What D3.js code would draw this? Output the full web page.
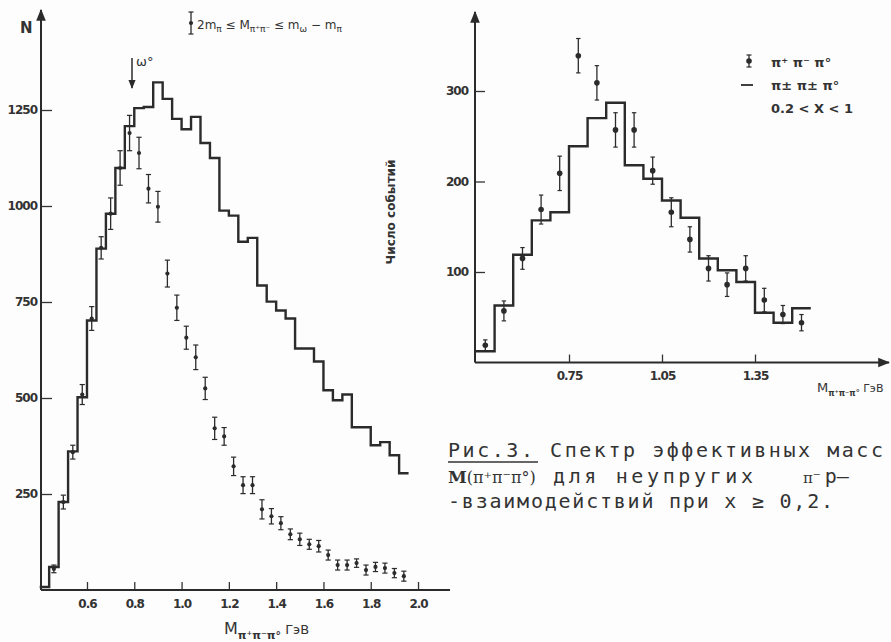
<!DOCTYPE html>
<html>
<head>
<meta charset="utf-8">
<script src="https://cdn.jsdelivr.net/npm/d3@7"></script>
<style>
  body { margin: 0; background: #fdfdfd; }
  svg { display: block; }
  .tick text { font-family: "DejaVu Sans", sans-serif; font-size: 12px; font-weight: bold; fill: #333; letter-spacing: -1px; }
  .tick line { stroke: #333; stroke-width: 1.3; }
</style>
</head>
<body>
<div id="chart"></div>
<script>
var width = 891;
var height = 642;

// left panel: histogram (0.04 GeV bins) and points
let leftEdges = [0.40, 0.44, 0.48, 0.52, 0.56, 0.60, 0.64, 0.68, 0.72, 0.76, 0.80, 0.84, 0.88, 0.92, 0.96, 1.00,
                 1.04, 1.08, 1.12, 1.16, 1.20, 1.24, 1.28, 1.32, 1.36, 1.40, 1.44, 1.48, 1.52, 1.56, 1.60, 1.64,
                 1.68, 1.72, 1.76, 1.80, 1.84, 1.88, 1.92, 1.96];
let leftHist = [8, 60, 229, 361, 502, 702, 889, 980, 1099, 1208, 1255, 1258, 1322, 1279, 1227, 1200, 1232, 1164,
                1125, 988, 975, 907, 917, 793, 751, 728, 707, 629, 629, 595, 520, 494, 509, 424, 424, 377, 385, 351, 304];
let leftMass = [0.46, 0.50, 0.54, 0.58, 0.62, 0.66, 0.70, 0.74, 0.78, 0.82, 0.86, 0.90, 0.94, 0.98, 1.02, 1.06,
                1.10, 1.14, 1.18, 1.22, 1.26, 1.30, 1.34, 1.38, 1.42, 1.46, 1.50, 1.54, 1.58, 1.62, 1.66, 1.70,
                1.74, 1.78, 1.82, 1.86, 1.90, 1.94];
let leftCounts = [55, 229, 359, 509, 707, 891, 980, 1099, 1190, 1138, 1045, 998, 824, 735, 657, 606, 525, 421, 400,
                  322, 273, 273, 210, 192, 174, 145, 132, 119, 114, 91, 65, 65, 70, 52, 60, 57, 44, 36];
let leftErrors = [10, 18, 18, 26, 31, 29, 41, 45, 46, 41, 37, 40, 35, 33, 30, 32, 29, 29, 23, 24, 22, 22, 25, 20,
                  17, 14, 16, 13, 15, 13, 13, 13, 11, 13, 12, 13, 12, 13];
let leftTicksX = [0.6, 0.8, 1.0, 1.2, 1.4, 1.6, 1.8, 2.0];
let leftTicksY = [250, 500, 750, 1000, 1250];

// right panel (inset): histogram (0.06 GeV bins) and points
let rightEdges = [0.45, 0.51, 0.57, 0.63, 0.69, 0.75, 0.81, 0.87, 0.93, 0.99, 1.05, 1.11, 1.17, 1.23, 1.29, 1.35, 1.41, 1.47, 1.53];
let rightHist = [12.5, 63, 119, 157, 166, 239, 270, 287, 218, 203, 179, 160, 115, 102, 89, 55, 44, 60];
let rightMass = [0.48, 0.54, 0.60, 0.66, 0.72, 0.78, 0.84, 0.90, 0.96, 1.02, 1.08, 1.14, 1.20, 1.26, 1.32, 1.38, 1.44, 1.50];
let rightCounts = [19, 57, 115, 169, 209, 339, 309, 257, 257, 212, 166, 136, 104, 86, 104, 69, 53, 44];
let rightErrors = [6, 11, 12, 16, 19, 19, 19, 19, 19, 15, 16, 14, 14, 13, 14, 13, 10, 9];
let rightTicksX = [0.75, 1.05, 1.35];
let rightTicksY = [100, 200, 300];

var ink = '#2b2b2b';

let svg = d3.select('#chart')
            .append('svg')
            .attr('width', width)
            .attr('height', height);

svg.append('defs').append('marker')
    .attr('id', 'arrow')
    .attr('viewBox', '0 0 10 10')
    .attr('refX', 9).attr('refY', 5)
    .attr('markerWidth', 6).attr('markerHeight', 6)
    .attr('orient', 'auto')
    .append('path')
    .attr('d', 'M0,1 L10,5 L0,9 z')
    .attr('fill', ink);

// scales
let xL = d3.scaleLinear().domain([0.40, 2.15]).range([39.7, 453.5]);
let yL = d3.scaleLinear().domain([0, 1250]).range([590, 110]);
let xR = d3.scaleLinear().domain([0.45, 1.75]).range([476, 879]);
let yR = d3.scaleLinear().domain([0, 300]).range([362.5, 91]);

// step histogram from edges + values
const drawHist = (g, edges, values, x, y, w) => {
    let pts = values.map((v, i) => [edges[i], v]);
    pts.push([edges[edges.length - 1], values[values.length - 1]]);
    let line = d3.line()
                 .x(d => x(d[0]))
                 .y(d => y(d[1]))
                 .curve(d3.curveStepAfter);
    g.append('path')
        .attr('d', line(pts))
        .attr('fill', 'none')
        .attr('stroke', ink)
        .attr('stroke-width', w)
        .attr('stroke-linejoin', 'miter');
};

const drawPoints = (g, xs, vs, es, x, y, cap, r) => {
    let item = g.selectAll('.pt')
                .data(xs.map((m, i) => ({ m: m, v: vs[i], e: es[i] })))
                .enter()
                .append('g')
                .classed('pt', true)
                .attr('transform', d => 'translate(' + x(d.m) + ',0)');
    item.append('line')
        .attr('x1', 0).attr('x2', 0)
        .attr('y1', d => y(d.v - d.e)).attr('y2', d => y(d.v + d.e))
        .attr('stroke', ink).attr('stroke-width', 1.3);
    item.append('line')
        .attr('x1', -cap).attr('x2', cap)
        .attr('y1', d => y(d.v + d.e)).attr('y2', d => y(d.v + d.e))
        .attr('stroke', ink).attr('stroke-width', 1.2);
    item.append('line')
        .attr('x1', -cap).attr('x2', cap)
        .attr('y1', d => y(d.v - d.e)).attr('y2', d => y(d.v - d.e))
        .attr('stroke', ink).attr('stroke-width', 1.2);
    item.append('circle')
        .attr('cx', 0)
        .attr('cy', d => y(d.v))
        .attr('r', r)
        .attr('fill', ink);
};

// ---------- left panel ----------
let left = svg.append('g').classed('left', true);

left.append('g')
    .attr('transform', 'translate(41,0)')
    .call(d3.axisLeft(yL).tickValues(leftTicksY).tickFormat(d3.format('d')).tickSize(-11).tickPadding(4).tickSizeOuter(0))
    .call(g => g.select('.domain').remove());

left.append('g')
    .attr('transform', 'translate(0,590)')
    .call(d3.axisBottom(xL).tickValues(leftTicksX).tickFormat(d3.format('.1f')).tickSize(-8).tickPadding(9).tickSizeOuter(0))
    .call(g => g.select('.domain').remove());

left.append('line')
    .attr('x1', 41).attr('x2', 41).attr('y1', 590).attr('y2', 10)
    .attr('stroke', ink).attr('stroke-width', 2)
    .attr('marker-end', 'url(#arrow)');
left.append('line')
    .attr('x1', 41).attr('x2', 450).attr('y1', 590).attr('y2', 590)
    .attr('stroke', ink).attr('stroke-width', 2);

drawHist(left, leftEdges, leftHist, xL, yL, 2.4);
drawPoints(left, leftMass, leftCounts, leftErrors, xL, yL, 2.6, 2.1);

left.append('text')
    .attr('x', 20).attr('y', 33)
    .attr('font-family', 'DejaVu Sans, sans-serif')
    .attr('font-size', 15).attr('font-weight', 'bold')
    .attr('fill', '#333')
    .text('N');

// omega marker
left.append('line')
    .attr('x1', 132).attr('x2', 132).attr('y1', 58).attr('y2', 88)
    .attr('stroke', ink).attr('stroke-width', 1.5)
    .attr('marker-end', 'url(#arrow)');
left.append('text')
    .attr('x', 136).attr('y', 66)
    .attr('font-family', 'DejaVu Sans, sans-serif')
    .attr('font-size', 13).attr('fill', '#333')
    .text('ω°');

// legend top-left
let lg = left.append('g').attr('transform', 'translate(191,0)');
lg.append('line').attr('x1', 0).attr('x2', 0).attr('y1', 12).attr('y2', 34).attr('stroke', ink).attr('stroke-width', 1.3);
lg.append('line').attr('x1', -2.5).attr('x2', 2.5).attr('y1', 12).attr('y2', 12).attr('stroke', ink).attr('stroke-width', 1.2);
lg.append('line').attr('x1', -2.5).attr('x2', 2.5).attr('y1', 34).attr('y2', 34).attr('stroke', ink).attr('stroke-width', 1.2);
lg.append('circle').attr('cx', 0).attr('cy', 23).attr('r', 2.1).attr('fill', ink);
let lt = lg.append('text')
    .attr('x', 6).attr('y', 29)
    .attr('font-family', 'DejaVu Sans, sans-serif')
    .attr('font-size', 12).attr('fill', '#333');
lt.append('tspan').text('2m');
lt.append('tspan').attr('dy', 3).attr('font-size', 9).text('π');
lt.append('tspan').attr('dy', -3).text(' ≤ M');
lt.append('tspan').attr('dy', 3).attr('font-size', 9).text('π⁺π⁻');
lt.append('tspan').attr('dy', -3).text(' ≤ m');
lt.append('tspan').attr('dy', 3).attr('font-size', 9).text('ω');
lt.append('tspan').attr('dy', -3).text(' − m');
lt.append('tspan').attr('dy', 3).attr('font-size', 9).text('π');

// x label left
let xl = left.append('text')
    .attr('x', 224).attr('y', 634)
    .attr('font-family', 'DejaVu Sans, sans-serif')
    .attr('font-size', 16).attr('fill', '#333');
xl.append('tspan').text('M');
xl.append('tspan').attr('dy', 5).attr('font-size', 11).attr('font-weight', 'bold').text('π⁺π⁻π°');
xl.append('tspan').attr('dy', -5).attr('font-size', 13).text(' ГэВ');

// ---------- right panel ----------
let right = svg.append('g').classed('right', true);

right.append('g')
    .attr('transform', 'translate(475,0)')
    .call(d3.axisLeft(yR).tickValues(rightTicksY).tickSize(-10).tickPadding(7).tickSizeOuter(0))
    .call(g => g.select('.domain').remove());

right.append('g')
    .attr('transform', 'translate(0,362.5)')
    .call(d3.axisBottom(xR).tickValues(rightTicksX).tickFormat(d3.format('.2f')).tickSize(-8).tickPadding(9).tickSizeOuter(0))
    .call(g => g.select('.domain').remove());

right.append('line')
    .attr('x1', 475).attr('x2', 475).attr('y1', 362.5).attr('y2', 12)
    .attr('stroke', ink).attr('stroke-width', 2)
    .attr('marker-end', 'url(#arrow)');
right.append('line')
    .attr('x1', 475).attr('x2', 889).attr('y1', 362.5).attr('y2', 362.5)
    .attr('stroke', ink).attr('stroke-width', 2)
    .attr('marker-end', 'url(#arrow)');

drawHist(right, rightEdges, rightHist, xR, yR, 2.4);
drawPoints(right, rightMass, rightCounts, rightErrors, xR, yR, 2.2, 2.8);

right.append('text')
    .attr('transform', 'translate(395,212) rotate(-90)')
    .attr('text-anchor', 'middle')
    .attr('font-family', 'DejaVu Sans, sans-serif')
    .attr('font-size', 12).attr('font-weight', 'bold')
    .attr('fill', '#333')
    .text('Число событий');

// legend right
let rg = right.append('g').attr('transform', 'translate(749,0)');
rg.append('line').attr('x1', 0).attr('x2', 0).attr('y1', 55).attr('y2', 67).attr('stroke', ink).attr('stroke-width', 1.3);
rg.append('line').attr('x1', -2.5).attr('x2', 2.5).attr('y1', 55).attr('y2', 55).attr('stroke', ink).attr('stroke-width', 1.2);
rg.append('line').attr('x1', -2.5).attr('x2', 2.5).attr('y1', 67).attr('y2', 67).attr('stroke', ink).attr('stroke-width', 1.2);
rg.append('circle').attr('cx', 0).attr('cy', 61).attr('r', 2.8).attr('fill', ink);
rg.append('line').attr('x1', -8).attr('x2', 4).attr('y1', 85).attr('y2', 85).attr('stroke', ink).attr('stroke-width', 1.8);
let rtext = [['π⁺ π⁻ π°', 67], ['π± π± π°', 90], ['0.2 < X < 1', 113]];
rg.selectAll('.lt')
    .data(rtext)
    .enter()
    .append('text')
    .attr('x', 22).attr('y', d => d[1])
    .attr('font-family', 'DejaVu Sans, sans-serif')
    .attr('font-size', 13).attr('font-weight', 'bold')
    .attr('fill', '#333')
    .text(d => d[0]);

let xr = right.append('text')
    .attr('x', 817).attr('y', 392)
    .attr('font-family', 'DejaVu Sans, sans-serif')
    .attr('font-size', 13).attr('fill', '#333');
xr.append('tspan').text('M');
xr.append('tspan').attr('dy', 4).attr('font-size', 8).attr('font-weight', 'bold').text('π⁺π⁻π°');
xr.append('tspan').attr('dy', -4).attr('font-size', 11).text(' ГэВ');

// ---------- caption ----------
let cap = svg.append('g')
    .attr('font-family', 'DejaVu Sans Mono, monospace')
    .attr('font-size', 20)
    .attr('fill', '#333');
cap.append('text').attr('x', 448).attr('y', 457)
    .attr('textLength', 435).attr('lengthAdjust', 'spacing')
    .text('Рис.3. Спектр эффективных масс');
cap.append('line')
    .attr('x1', 448).attr('x2', 538).attr('y1', 462).attr('y2', 462)
    .attr('stroke', '#333').attr('stroke-width', 1.5);
let c2 = cap.append('text').attr('x', 448).attr('y', 483);
c2.append('tspan').attr('font-family', 'DejaVu Serif, serif').attr('font-weight', 'bold').attr('font-size', 17).text('M');
c2.append('tspan').attr('font-family', 'DejaVu Serif, serif').attr('font-size', 16).text('(π⁺π⁻π°)');
c2.append('tspan').attr('x', 553).attr('textLength', 200).attr('lengthAdjust', 'spacing').text('для неупругих');
c2.append('tspan').attr('x', 803).attr('font-family', 'DejaVu Serif, serif').attr('font-size', 15).text('π⁻');
c2.append('tspan').attr('dx', 4).text('p–');
cap.append('text').attr('x', 448).attr('y', 508)
    .attr('textLength', 385).attr('lengthAdjust', 'spacing')
    .text('-взаимодействий при x ≥ 0,2.');
</script>
</body>
</html>
